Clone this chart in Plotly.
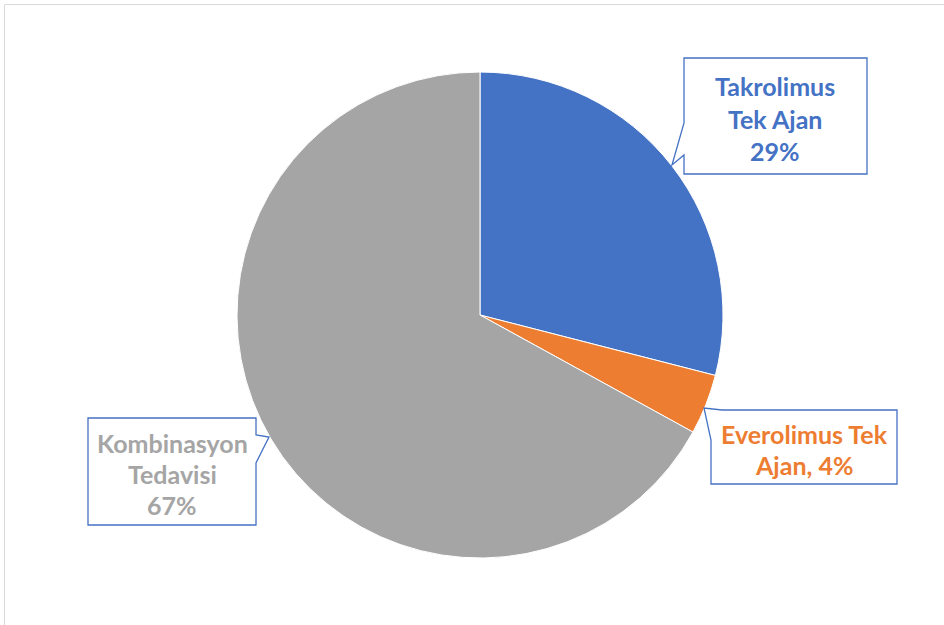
import plotly.graph_objects as go

W, H = 944, 625

labels = ["Takrolimus Tek Ajan", "Everolimus Tek Ajan", "Kombinasyon Tedavisi"]
values = [29, 4, 67]
colors = ["#4472C4", "#ED7D31", "#A5A5A5"]
label_lines = [["Takrolimus", "Tek Ajan", "{p}%"],
               ["Everolimus Tek", "Ajan, {p}%"],
               ["Kombinasyon", "Tedavisi", "{p}%"]]

# callout layout (pixels): text centre x, line centre ys, box, pointer
callouts = [
    dict(cx=775, ys=[85, 118, 150], box=(684, 58, 867, 174),
         notch=("left", [(684, 123), (672, 165), (684, 155)])),
    dict(cx=804, ys=[433, 464], box=(711, 410, 897, 484),
         notch=("topleft", [(722, 410), (704, 408), (711, 440)])),
    dict(cx=172, ys=[442, 473, 504], box=(88, 418, 256, 525),
         notch=("right", [(256, 435), (269, 437), (256, 463)])),
]

def px(x):
    return x / W

def py(y):
    return 1 - y / H

def P(x, y):
    return f"{px(x):.5f},{py(y):.5f}"

fig = go.Figure(go.Pie(
    labels=labels, values=values, sort=False, direction="clockwise", rotation=0,
    marker=dict(colors=colors, line=dict(color="white", width=1)),
    textinfo="none", hoverinfo="label+percent", showlegend=False,
    domain=dict(x=[237 / W, 723 / W], y=[1 - 558 / H, 1 - 72 / H]),
))

shapes = [dict(type="rect", xref="paper", yref="paper",
               x0=px(4.5), y0=py(4.5), x1=px(W + 10), y1=py(H + 10),
               line=dict(color="#D9D9D9", width=1), fillcolor="rgba(0,0,0,0)", layer="below")]
annotations = []
total = sum(values)
for i, c in enumerate(callouts):
    x0, y0, x1, y1 = c["box"]
    side, pts = c["notch"]
    if side == "left":
        path = (f"M {P(x0,y0)} L {P(x1,y0)} L {P(x1,y1)} L {P(x0,y1)} "
                f"L {P(*pts[2])} L {P(*pts[1])} L {P(*pts[0])} Z")
    elif side == "right":
        path = (f"M {P(x0,y0)} L {P(x1,y0)} L {P(*pts[0])} L {P(*pts[1])} "
                f"L {P(*pts[2])} L {P(x1,y1)} L {P(x0,y1)} Z")
    else:
        path = (f"M {P(*pts[0])} L {P(x1,y0)} L {P(x1,y1)} L {P(x0,y1)} "
                f"L {P(*pts[2])} L {P(*pts[1])} Z")
    shapes.append(dict(type="path", xref="paper", yref="paper", path=path,
                       fillcolor="white", line=dict(color="#4472C4", width=1.3), layer="above"))
    pct = round(values[i] / total * 100)
    for line, yc in zip(label_lines[i], c["ys"]):
        annotations.append(dict(
            text=line.format(p=pct), x=px(c["cx"]), y=py(yc + 1), xref="paper", yref="paper",
            xanchor="center", yanchor="middle", showarrow=False,
            font=dict(family="Lato", size=25, color=colors[i], weight="bold")))

fig.update_layout(
    width=W, height=H, margin=dict(l=0, r=0, t=0, b=0),
    paper_bgcolor="white", plot_bgcolor="white",
    shapes=shapes, annotations=annotations,
)
fig.write_html("out.html")
